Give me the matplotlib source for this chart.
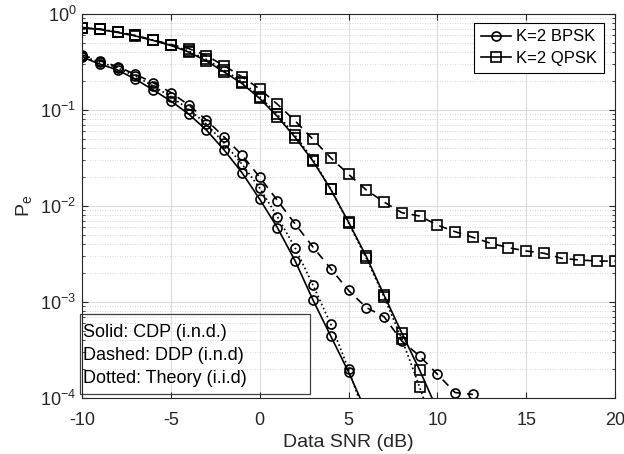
import matplotlib
matplotlib.use("Agg")
import matplotlib.pyplot as plt
from matplotlib.patches import Rectangle
from matplotlib.ticker import LogLocator, NullFormatter, FixedLocator

plt.rcParams['font.family'] = ['Liberation Sans', 'DejaVu Sans']
plt.rcParams['axes.unicode_minus'] = False

# SNR grid (dB)
snr_bpsk_cdp = list(range(-10, 7))
snr_bpsk_ddp = list(range(-10, 13))
snr_bpsk_th = list(range(-10, 7))
snr_qpsk_cdp = list(range(-10, 11))
snr_qpsk_ddp = list(range(-10, 21))
snr_qpsk_th = list(range(-10, 11))

# error probabilities
pe_bpsk_cdp = [0.357, 0.301, 0.261, 0.210, 0.162, 0.124, 0.0909, 0.0619, 0.0383,
               0.0223, 0.0118, 0.00594, 0.00267, 0.00105, 0.000442, 0.000187, 7.15e-5]
pe_bpsk_th = [0.365, 0.316, 0.274, 0.226, 0.178, 0.138, 0.102, 0.0715, 0.0453,
              0.0274, 0.0154, 0.00773, 0.00365, 0.00150, 0.00059, 0.000200, 5.9e-5]
pe_bpsk_ddp = [0.374, 0.326, 0.2825, 0.2355, 0.1925, 0.152, 0.113, 0.0787, 0.0523,
               0.0340, 0.0200, 0.0114, 0.00649, 0.00374, 0.00223, 0.00132, 0.000876,
               0.000703, 0.000392, 0.000274, 0.000177, 0.000114, 0.000109]
pe_qpsk_cdp = [0.715, 0.690, 0.642, 0.590, 0.530, 0.470, 0.402, 0.324, 0.249, 0.189,
               0.132, 0.0855, 0.0517, 0.0294, 0.0149, 0.00681, 0.00298, 0.00118,
               0.000476, 0.000196, 7.5e-5]
pe_qpsk_th = [0.723, 0.698, 0.649, 0.597, 0.536, 0.4755, 0.412, 0.336, 0.261, 0.198,
              0.138, 0.0898, 0.0543, 0.0305, 0.0150, 0.00665, 0.00287, 0.00113,
              0.000412, 0.000131, 3.65e-5]
pe_qpsk_ddp = [0.723, 0.698, 0.649, 0.597, 0.536, 0.481, 0.437, 0.368, 0.289, 0.222,
               0.1655, 0.1147, 0.0768, 0.0495, 0.0318, 0.0214, 0.0147, 0.0110, 0.00852,
               0.00787, 0.00634, 0.0054, 0.00472, 0.00409, 0.00368, 0.0034, 0.00322,
               0.00285, 0.00274, 0.00267, 0.00267]

legend_labels = ['K=2 BPSK', 'K=2 QPSK']
note_lines = ['Solid: CDP (i.n.d.)', 'Dashed: DDP (i.n.d)', 'Dotted: Theory (i.i.d)']

fig = plt.figure(figsize=(6.24, 4.54), dpi=100)
ax = fig.add_axes([0.1314, 0.1233, 0.8542, 0.8459])

mk = dict(color='black', lw=1.2, markersize=6.5, markerfacecolor='none',
          markeredgewidth=1.2)

h_bpsk, = ax.semilogy(snr_bpsk_cdp, pe_bpsk_cdp, '-', marker='o', **mk)
ax.semilogy(snr_bpsk_ddp, pe_bpsk_ddp, '--', marker='o', dashes=(5, 4), **mk)
ax.semilogy(snr_bpsk_th, pe_bpsk_th, ':', marker='o', **mk)
h_qpsk, = ax.semilogy(snr_qpsk_cdp, pe_qpsk_cdp, '-', marker='s', **mk)
ax.semilogy(snr_qpsk_ddp, pe_qpsk_ddp, '--', marker='s', dashes=(5, 4), **mk)
ax.semilogy(snr_qpsk_th, pe_qpsk_th, ':', marker='s', **mk)

ax.set_xlim(-10, 20)
ax.set_ylim(1e-4, 1)
ax.xaxis.set_major_locator(FixedLocator([-10, -5, 0, 5, 10, 15, 20]))
ax.yaxis.set_major_locator(LogLocator(base=10, numticks=10))
ax.yaxis.set_minor_locator(LogLocator(base=10, subs=range(2, 10), numticks=20))
ax.yaxis.set_minor_formatter(NullFormatter())

ax.grid(True, which='major', color='#dcdcdc', lw=0.8, ls='-')
ax.grid(True, which='minor', axis='y', color='#c8c8c8', lw=0.6, ls=(0, (1, 2)))
ax.set_axisbelow(True)

axis_col = '#262626'
for s in ax.spines.values():
    s.set_color(axis_col)
    s.set_linewidth(0.8)
ax.tick_params(which='both', direction='in', top=True, right=True,
               colors=axis_col, labelcolor=axis_col, labelsize=13)
ax.tick_params(which='major', length=4)
ax.tick_params(which='minor', length=2)
ax.tick_params(axis='x', pad=10)
ax.tick_params(axis='y', pad=4)

ax.set_xlabel('Data SNR (dB)', fontsize=14, color=axis_col, labelpad=4)
ax.set_ylabel('P$_\\mathregular{e}$', fontsize=14, color=axis_col, labelpad=4)

leg = ax.legend([h_bpsk, h_qpsk], legend_labels, loc='upper right',
                bbox_to_anchor=(0.979, 0.977), borderaxespad=0, fancybox=False,
                framealpha=1, edgecolor='black', fontsize=12, handlelength=1.8,
                handletextpad=0.3, borderpad=0.4, labelspacing=0.4)
leg.get_frame().set_linewidth(0.8)

# note box in the lower left
ax.add_patch(Rectangle((-0.004, 0.01), 0.431, 0.21, transform=ax.transAxes,
                       fill=False, edgecolor='#404040', lw=0.9, clip_on=False))
for i, line in enumerate(note_lines):
    ax.text(0.002, 0.17 - i * 0.06, line, transform=ax.transAxes,
            fontsize=13, va='center', ha='left', color='black')

fig.savefig('out.png', dpi=100)
